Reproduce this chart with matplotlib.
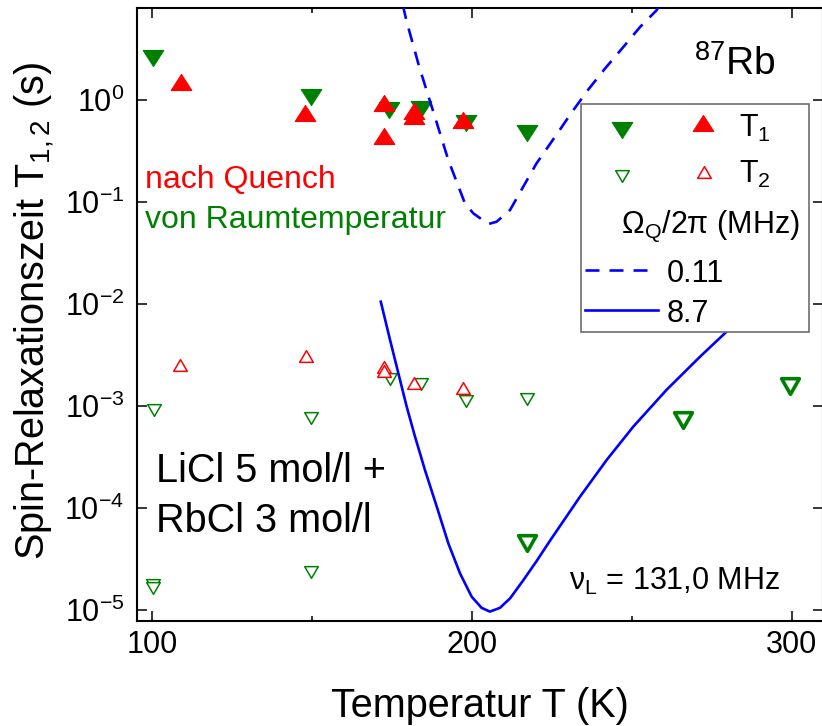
import numpy as np
import matplotlib
matplotlib.use("Agg")
import matplotlib.pyplot as plt
from matplotlib.lines import Line2D
from matplotlib.patches import Rectangle
from matplotlib.path import Path
from matplotlib.ticker import FixedLocator, NullLocator, FuncFormatter

plt.rcParams['font.family'] = ['Liberation Sans', 'DejaVu Sans']
plt.rcParams['mathtext.fontset'] = 'custom'
plt.rcParams['mathtext.rm'] = 'Liberation Sans'
plt.rcParams['mathtext.it'] = 'Liberation Sans:italic'
plt.rcParams['mathtext.bf'] = 'Liberation Sans:bold'
plt.rcParams['mathtext.sf'] = 'Liberation Sans'

GREEN = '#008000'
RED = '#ff0000'
BLUE = '#0000ff'

# ---- measured relaxation times (s) vs temperature (K) ----
# T1, filled symbols
t1_green_T = [100.3, 149.7, 174.2, 184.0, 198.0, 217.1]
t1_green_val = [2.56, 1.06, 0.80, 0.82, 0.60, 0.475]
t1_red_T = [109.1, 147.8, 172.4, 172.4, 181.9, 181.9, 197.2]
t1_red_val = [1.51, 0.74, 0.93, 0.44, 0.785, 0.69, 0.63]

# T2, open symbols
t2_green_T = [100.5, 100.3, 100.3, 149.7, 149.7, 174.3, 184.2, 198.2, 217.1]
t2_green_val = [9.1e-4, 1.76e-5, 1.63e-5, 7.7e-4, 2.38e-5, 1.86e-3, 1.66e-3,
                1.13e-3, 1.16e-3]
t2_green_bold_T = [217.1, 265.9, 299.5]
t2_green_bold_val = [4.59e-5, 7.29e-4, 1.58e-3]
t2_red_T = [108.9, 148.0, 172.4, 172.4, 181.8, 197.1]
t2_red_val = [2.52e-3, 3.1e-3, 2.43e-3, 2.22e-3, 1.68e-3, 1.49e-3]

# ---- model curves for two quadrupole coupling constants ----
fit_011_T = [178.4, 179.6, 183.5, 188.4, 192.6, 197.8, 200.4, 205.1, 207.7,
             211.9, 216.0, 220.2, 227.5, 231.2, 236.3, 241.6, 247.3, 252.5,
             257.7, 259.0]
fit_011_val = [8.5, 5.86, 2.12, 0.686, 0.258, 0.097, 0.0775, 0.0608, 0.0641,
               0.0835, 0.141, 0.24, 0.513, 0.759, 1.26, 2.04, 3.31, 5.19,
               7.59, 9.0]
fit_87_T = [171.5, 174.4, 177.0, 179.6, 182.2, 185.3, 189.0, 192.6, 196.25,
            199.9, 203.0, 205.6, 208.75, 211.9, 216.0, 220.2, 224.4, 233.75,
            242.1, 250.4, 260.8, 271.25, 279.6, 290.0]
fit_87_val = [1.054e-2, 4.44e-3, 2.09e-3, 9.84e-4, 5.01e-4, 2.36e-4, 1.03e-4,
              4.51e-5, 2.29e-5, 1.35e-5, 1.05e-5, 9.64e-6, 1.05e-5, 1.30e-5,
              1.95e-5, 3.02e-5, 4.79e-5, 1.29e-4, 2.96e-4, 6.27e-4, 1.44e-3,
              3.04e-3, 5.37e-3, 9.3e-3]

x_ticks = [100, 200, 300]
x_minor = [150, 250]
y_ticks = [1e-5, 1e-4, 1e-3, 1e-2, 1e-1, 1e0]

W, H = 822, 726
fig = plt.figure(figsize=(W / 100, H / 100), dpi=100)


def fx(x):
    return x / W


def fy(y):
    return 1 - y / H


ax_l, ax_r, ax_t, ax_b = 136.7, 823.0, 8.3, 620.5
ax = fig.add_axes([fx(ax_l), fy(ax_b), (ax_r - ax_l) / W, (ax_b - ax_t) / H])
ax.set_yscale('log')
ax.set_xlim(95.22, 309.7)
ax.set_ylim(7.89e-6, 7.93)


def tri(up, ratio):
    # triangle of width 2 and height 2*ratio, centred on its bounding box
    h = ratio
    if up:
        v = [(-1, -h), (1, -h), (0, h), (-1, -h)]
    else:
        v = [(-1, h), (1, h), (0, -h), (-1, h)]
    return Path(v, closed=True)


down_f, up_f = tri(False, 0.78), tri(True, 0.78)
down_o, up_o = tri(False, 0.86), tri(True, 0.86)

open_kw = dict(ls='none', ms=9.8, mew=1.1, mfc='white')
fill_kw = dict(ls='none', ms=14.8, mew=0.8)

ax.plot(t2_green_T, t2_green_val, marker=down_o, mec=GREEN, zorder=3, **open_kw)
ax.plot(t2_green_bold_T, t2_green_bold_val, marker=tri(False, 0.88), ls='none',
        ms=12.8, mew=2.6, mec=GREEN, mfc='white', zorder=3)
ax.plot(t2_red_T, t2_red_val, marker=up_o, mec=RED, zorder=3, **open_kw)
ax.plot(t1_green_T, t1_green_val, marker=down_f, color=GREEN, zorder=3, **fill_kw)
ax.plot(t1_red_T, t1_red_val, marker=up_f, color=RED, zorder=3, **fill_kw)

dash = (0, (5.3, 3.8))
ax.plot(fit_011_T, fit_011_val, color=BLUE, lw=1.9, ls=dash, zorder=4)
ax.plot(fit_87_T, fit_87_val, color=BLUE, lw=1.9, ls='-', zorder=4)

# axes styling
for s in ax.spines.values():
    s.set_linewidth(1.5)
ax.xaxis.set_major_locator(FixedLocator(x_ticks))
ax.xaxis.set_minor_locator(FixedLocator(x_minor))
ax.yaxis.set_major_locator(FixedLocator(y_ticks))
ax.yaxis.set_minor_locator(NullLocator())
ax.yaxis.set_major_formatter(
    FuncFormatter(lambda v, p: r'$10^{%d}$' % int(round(np.log10(v)))))
ax.tick_params(which='both', direction='in', top=True, right=True,
               width=1.1, labelsize=22)
ax.tick_params(which='major', length=7.2)
ax.tick_params(which='minor', length=3.6)
ax.tick_params(axis='x', pad=7)
ax.tick_params(axis='y', pad=9)

ax.set_xlabel('Temperatur T (K)', fontsize=28.5)
ax.xaxis.label.set_va('baseline')
ax.xaxis.set_label_coords(0.5, (ax_b - 716.7) / (ax_b - ax_t))
ax.set_ylabel(r'Spin-Relaxationszeit T$_{1,2}$ (s)', fontsize=28.5)
ax.yaxis.label.set_va('baseline')
ax.yaxis.set_label_coords((45 - ax_l) / (ax_r - ax_l), 0.505)

# annotations
fig.text(fx(694), fy(75), r'$^{87}$Rb', fontsize=28, va='baseline')
fig.text(fx(145), fy(188.3), 'nach Quench', color=RED, fontsize=23, va='baseline')
fig.text(fx(145), fy(228.3), 'von Raumtemperatur', color=GREEN, fontsize=23,
         va='baseline')
fig.text(fx(155.5), fy(481.7), 'LiCl 5 mol/l +', fontsize=28.5, va='baseline')
fig.text(fx(155.5), fy(531.7), 'RbCl 3 mol/l', fontsize=28.5, va='baseline')
fig.text(fx(569), fy(590), r'ν$_\mathrm{L}$ = 131,0 MHz', fontsize=22,
         va='baseline')

# key box
fig.add_artist(Rectangle((fx(581), fy(332.3)), (809.3 - 581) / W,
                         (332.3 - 104) / H, transform=fig.transFigure,
                         facecolor='white', edgecolor='#6e6e6e', lw=1.2,
                         zorder=5))


def key_marker(x, y, **kw):
    fig.add_artist(Line2D([fx(x)], [fy(y)], transform=fig.transFigure,
                          zorder=6, **kw))


key_marker(621.7, 129.5, marker=down_f, color=GREEN, **fill_kw)
key_marker(703.3, 123.3, marker=up_f, color=RED, **fill_kw)
key_marker(622.0, 175.5, marker=down_o, mec=GREEN, **open_kw)
key_marker(703.7, 171.7, marker=up_o, mec=RED, **open_kw)
fig.add_artist(Line2D([fx(585), fx(655)], [fy(270), fy(270)], color=BLUE,
                      lw=1.9, ls=dash, transform=fig.transFigure, zorder=6))
fig.add_artist(Line2D([fx(585), fx(658.3)], [fy(310), fy(310)], color=BLUE,
                      lw=1.9, transform=fig.transFigure, zorder=6))
fig.text(fx(739), fy(136.7), r'T$_1$', fontsize=22, va='baseline', zorder=7)
fig.text(fx(739), fy(183.4), r'T$_2$', fontsize=22, va='baseline', zorder=7)
fig.text(fx(620.5), fy(233.3), r'Ω$_\mathrm{Q}$/2π (MHz)', fontsize=22,
         va='baseline', zorder=7)
fig.text(fx(667), fy(281.7), '0.11', fontsize=22, va='baseline', zorder=7)
fig.text(fx(667), fy(321.7), '8.7', fontsize=22, va='baseline', zorder=7)

fig.savefig('out.png', dpi=100, facecolor='white')
